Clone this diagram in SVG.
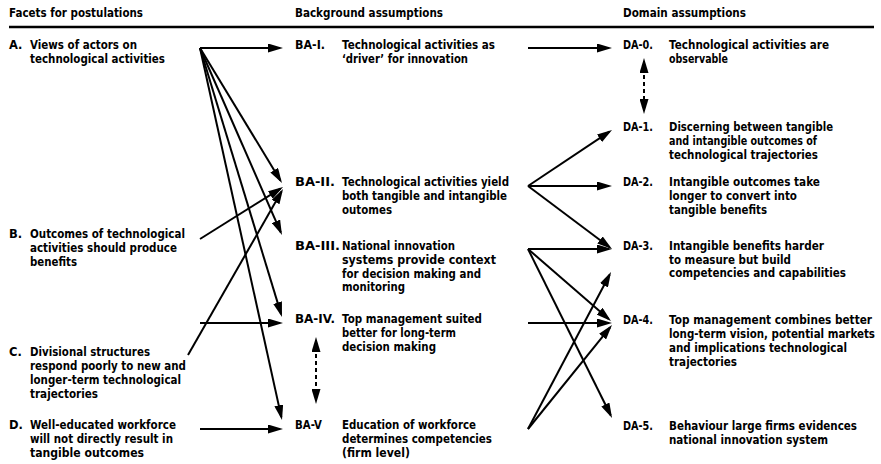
<svg xmlns="http://www.w3.org/2000/svg" width="881" height="464" viewBox="0 0 881 464">
  <style>
    text { font-family: "DejaVu Sans", Verdana, sans-serif; font-weight: bold; font-size: 11.5px; fill: #000; }
    .c { fill: none; stroke: #000; stroke-width: 2; }
    .d { fill: none; stroke: #000; stroke-width: 2; stroke-dasharray: 4 3; }
    .rule { stroke: #000; stroke-width: 2.5; }
  </style>
  <defs>
    <marker id="ah" markerUnits="userSpaceOnUse" markerWidth="15" markerHeight="9" refX="12" refY="4.5" orient="auto-start-reverse">
      <path d="M0,0 L15,4.5 L0,9 z" fill="#000"/>
    </marker>
  </defs>

  <!-- column headings -->
  <g id="headings">
    <text x="9" y="17" textLength="134" lengthAdjust="spacingAndGlyphs">Facets for postulations</text>
    <text x="295" y="17" textLength="148" lengthAdjust="spacingAndGlyphs">Background assumptions</text>
    <text x="623" y="17" textLength="123" lengthAdjust="spacingAndGlyphs">Domain assumptions</text>
    <line class="rule" x1="9" y1="27" x2="874" y2="27"/>
  </g>

  <!-- facets -->
  <g id="facet-A">
    <text x="9" y="49">A.</text>
    <text x="30" y="49" textLength="107" lengthAdjust="spacingAndGlyphs">Views of actors on</text>
    <text x="30" y="63" textLength="135" lengthAdjust="spacingAndGlyphs">technological activities</text>
  </g>
  <g id="facet-B">
    <text x="9" y="238">B.</text>
    <text x="30" y="238" textLength="155" lengthAdjust="spacingAndGlyphs">Outcomes of technological</text>
    <text x="30" y="252" textLength="147" lengthAdjust="spacingAndGlyphs">activities should produce</text>
    <text x="30" y="266" textLength="47" lengthAdjust="spacingAndGlyphs">benefits</text>
  </g>
  <g id="facet-C">
    <text x="9" y="356">C.</text>
    <text x="30" y="356" textLength="120" lengthAdjust="spacingAndGlyphs">Divisional structures</text>
    <text x="30" y="370" textLength="156" lengthAdjust="spacingAndGlyphs">respond poorly to new and</text>
    <text x="30" y="384" textLength="151" lengthAdjust="spacingAndGlyphs">longer-term technological</text>
    <text x="30" y="398" textLength="68" lengthAdjust="spacingAndGlyphs">trajectories</text>
  </g>
  <g id="facet-D">
    <text x="9" y="429">D.</text>
    <text x="30" y="429" textLength="146" lengthAdjust="spacingAndGlyphs">Well-educated workforce</text>
    <text x="30" y="443" textLength="143" lengthAdjust="spacingAndGlyphs">will not directly result in</text>
    <text x="30" y="457" textLength="114" lengthAdjust="spacingAndGlyphs">tangible outcomes</text>
  </g>

  <!-- background assumptions -->
  <g id="BA-I">
    <text x="295" y="49" textLength="30" lengthAdjust="spacingAndGlyphs">BA-I.</text>
    <text x="342" y="49" textLength="153" lengthAdjust="spacingAndGlyphs">Technological activities as</text>
    <text x="342" y="63" textLength="126" lengthAdjust="spacingAndGlyphs">‘driver’ for innovation</text>
  </g>
  <g id="BA-II">
    <text x="295" y="186" textLength="40" lengthAdjust="spacingAndGlyphs">BA-II.</text>
    <text x="342" y="186" textLength="167" lengthAdjust="spacingAndGlyphs">Technological activities yield</text>
    <text x="342" y="200" textLength="165" lengthAdjust="spacingAndGlyphs">both tangible and intangible</text>
    <text x="342" y="214" textLength="50" lengthAdjust="spacingAndGlyphs">outomes</text>
  </g>
  <g id="BA-III">
    <text x="295" y="250" textLength="45" lengthAdjust="spacingAndGlyphs">BA-III.</text>
    <text x="342" y="250" textLength="113" lengthAdjust="spacingAndGlyphs">National innovation</text>
    <text x="342" y="264" textLength="154" lengthAdjust="spacingAndGlyphs">systems provide context</text>
    <text x="342" y="277.5" textLength="139" lengthAdjust="spacingAndGlyphs">for decision making and</text>
    <text x="342" y="291" textLength="63" lengthAdjust="spacingAndGlyphs">monitoring</text>
  </g>
  <g id="BA-IV">
    <text x="295" y="323" textLength="40" lengthAdjust="spacingAndGlyphs">BA-IV.</text>
    <text x="342" y="323" textLength="140" lengthAdjust="spacingAndGlyphs">Top management suited</text>
    <text x="342" y="337" textLength="114" lengthAdjust="spacingAndGlyphs">better for long-term</text>
    <text x="342" y="351" textLength="94" lengthAdjust="spacingAndGlyphs">decision making</text>
  </g>
  <g id="BA-V">
    <text x="295" y="429" textLength="27" lengthAdjust="spacingAndGlyphs">BA-V</text>
    <text x="342" y="429" textLength="134" lengthAdjust="spacingAndGlyphs">Education of workforce</text>
    <text x="342" y="443" textLength="150" lengthAdjust="spacingAndGlyphs">determines competencies</text>
    <text x="342" y="457" textLength="68" lengthAdjust="spacingAndGlyphs">(firm level)</text>
  </g>

  <!-- domain assumptions -->
  <g id="DA-0">
    <text x="623" y="49" textLength="30" lengthAdjust="spacingAndGlyphs">DA-0.</text>
    <text x="669" y="49" textLength="160" lengthAdjust="spacingAndGlyphs">Technological activities are</text>
    <text x="669" y="63" textLength="59" lengthAdjust="spacingAndGlyphs">observable</text>
  </g>
  <g id="DA-1">
    <text x="623" y="131" textLength="30" lengthAdjust="spacingAndGlyphs">DA-1.</text>
    <text x="669" y="131" textLength="164" lengthAdjust="spacingAndGlyphs">Discerning between tangible</text>
    <text x="669" y="145" textLength="148" lengthAdjust="spacingAndGlyphs">and intangible outcomes of</text>
    <text x="669" y="159" textLength="149" lengthAdjust="spacingAndGlyphs">technological trajectories</text>
  </g>
  <g id="DA-2">
    <text x="623" y="186" textLength="30" lengthAdjust="spacingAndGlyphs">DA-2.</text>
    <text x="669" y="186" textLength="151" lengthAdjust="spacingAndGlyphs">Intangible outcomes take</text>
    <text x="669" y="200" textLength="128" lengthAdjust="spacingAndGlyphs">longer to convert into</text>
    <text x="669" y="214" textLength="98" lengthAdjust="spacingAndGlyphs">tangible benefits</text>
  </g>
  <g id="DA-3">
    <text x="623" y="250" textLength="30" lengthAdjust="spacingAndGlyphs">DA-3.</text>
    <text x="669" y="250" textLength="155" lengthAdjust="spacingAndGlyphs">Intangible benefits harder</text>
    <text x="669" y="263.5" textLength="122" lengthAdjust="spacingAndGlyphs">to measure but build</text>
    <text x="669" y="277" textLength="177" lengthAdjust="spacingAndGlyphs">competencies and capabilities</text>
  </g>
  <g id="DA-4">
    <text x="623" y="324" textLength="30" lengthAdjust="spacingAndGlyphs">DA-4.</text>
    <text x="669" y="324" textLength="203" lengthAdjust="spacingAndGlyphs">Top management combines better</text>
    <text x="669" y="338" textLength="206" lengthAdjust="spacingAndGlyphs">long-term vision, potential markets</text>
    <text x="669" y="352" textLength="178" lengthAdjust="spacingAndGlyphs">and implications technological</text>
    <text x="669" y="366" textLength="68" lengthAdjust="spacingAndGlyphs">trajectories</text>
  </g>
  <g id="DA-5">
    <text x="623" y="430" textLength="30" lengthAdjust="spacingAndGlyphs">DA-5.</text>
    <text x="669" y="430" textLength="188" lengthAdjust="spacingAndGlyphs">Behaviour large firms evidences</text>
    <text x="669" y="444" textLength="159" lengthAdjust="spacingAndGlyphs">national innovation system</text>
  </g>

  <!-- connectors -->
  <g id="connectors" marker-end="url(#ah)">
    <!-- facet A fan -->
    <line class="c" x1="200" y1="48" x2="280" y2="48"/>
    <line class="c" x1="200" y1="48" x2="280.4" y2="180.4"/>
    <line class="c" x1="200" y1="48" x2="280.8" y2="232.3"/>
    <line class="c" x1="200" y1="48" x2="281.1" y2="314.1"/>
    <line class="c" x1="200" y1="48" x2="281.35" y2="417.1"/>
    <!-- facets B, C, D -->
    <line class="c" x1="200" y1="239" x2="280.5" y2="188.6"/>
    <line class="c" x1="188" y1="355" x2="281.5" y2="191.6"/>
    <line class="c" x1="200" y1="323" x2="280" y2="323"/>
    <line class="c" x1="200" y1="429" x2="280" y2="429"/>
    <!-- background to domain -->
    <line class="c" x1="528" y1="48" x2="609" y2="48"/>
    <line class="c" x1="528" y1="186" x2="609.5" y2="131.7"/>
    <line class="c" x1="528" y1="186" x2="609" y2="186"/>
    <line class="c" x1="528" y1="186" x2="609.6" y2="247.2"/>
    <line class="c" x1="528" y1="249" x2="609" y2="249"/>
    <line class="c" x1="528" y1="249" x2="608.7" y2="319"/>
    <line class="c" x1="528" y1="249" x2="610.7" y2="415.3"/>
    <line class="c" x1="528" y1="323" x2="609" y2="323"/>
    <line class="c" x1="528" y1="429" x2="609.6" y2="274.7"/>
    <line class="c" x1="528" y1="429" x2="610.1" y2="327.3"/>
    <!-- mutual links -->
    <line class="d" x1="316" y1="340" x2="316" y2="401" marker-start="url(#ah)"/>
    <line class="d" x1="644" y1="61" x2="644" y2="111" marker-start="url(#ah)"/>
  </g>
</svg>
